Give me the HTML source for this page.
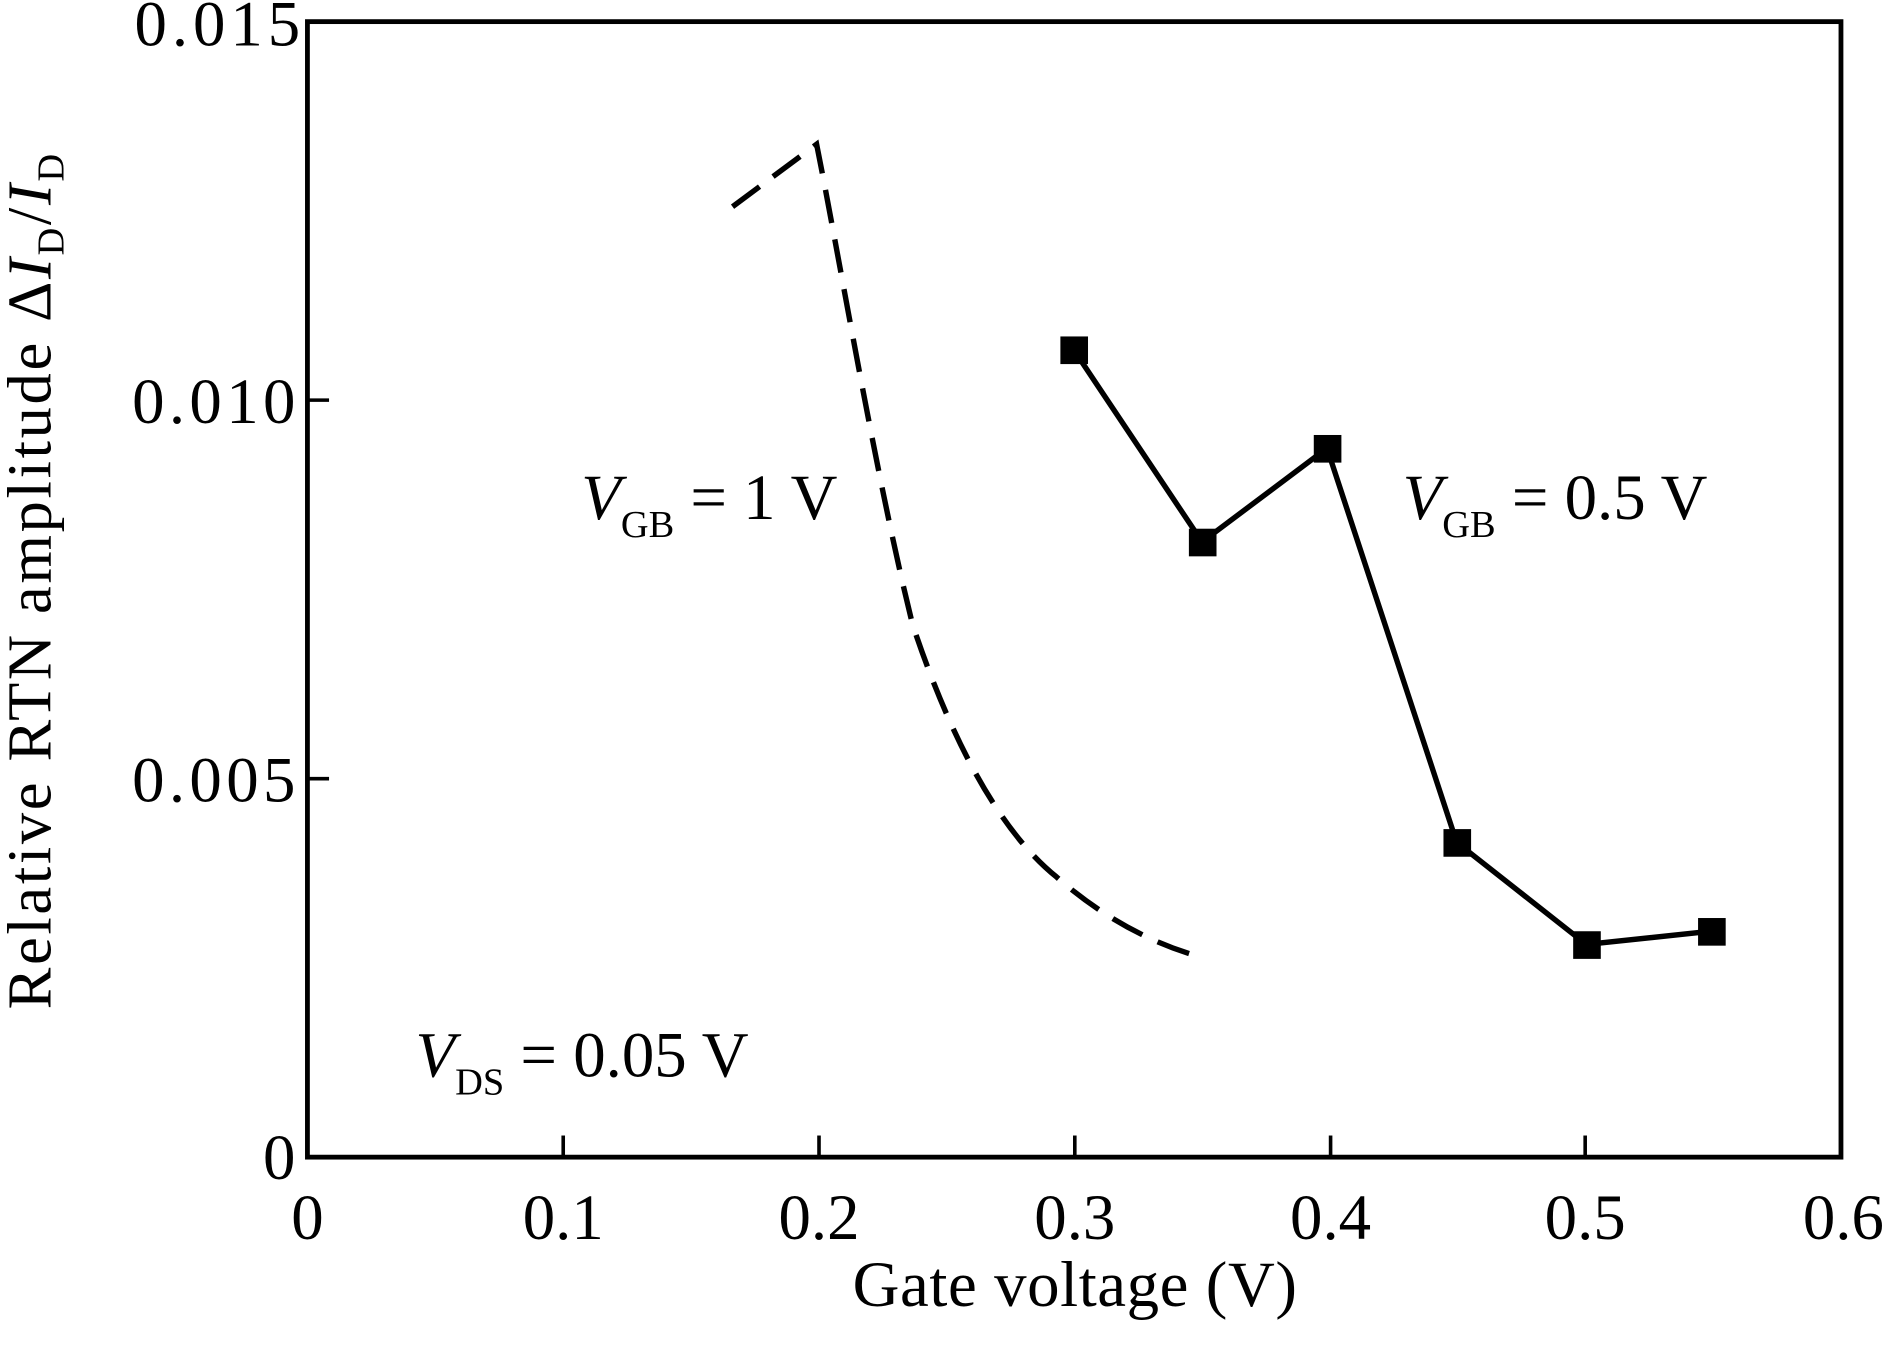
<!DOCTYPE html>
<html><head><style>html,body{margin:0;padding:0;background:#fff}svg{display:block}</style></head>
<body>
<svg width="1883" height="1347" viewBox="0 0 1568 1121" preserveAspectRatio="none" xmlns="http://www.w3.org/2000/svg" font-family="Liberation Serif, serif" fill="#000">
<rect x="256" y="18" width="1277" height="945" fill="none" stroke="#000" stroke-width="4"/>
<g stroke="#000" stroke-width="3">
<line x1="469" y1="963" x2="469" y2="945"/><line x1="682" y1="963" x2="682" y2="945"/>
<line x1="895" y1="963" x2="895" y2="945"/><line x1="1108" y1="963" x2="1108" y2="945"/>
<line x1="1320" y1="963" x2="1320" y2="945"/>
<line x1="256" y1="648" x2="274" y2="648"/><line x1="256" y1="333" x2="274" y2="333"/>
</g>
<g font-size="54" text-anchor="middle">
<text x="256" y="1031">0</text><text x="469" y="1031">0.1</text><text x="682" y="1031">0.2</text>
<text x="895" y="1031">0.3</text><text x="1108" y="1031">0.4</text><text x="1320" y="1031">0.5</text>
<text x="1535" y="1031">0.6</text>
</g>
<g font-size="54" text-anchor="end">
<text x="246" y="981" textLength="26">0</text><text x="246" y="667" textLength="136">0.005</text><text x="246" y="352" textLength="136">0.010</text><text x="250" y="38" textLength="138">0.015</text>
</g>
<text x="710" y="1087" font-size="54" textLength="370">Gate voltage (V)</text>
<text transform="translate(42,840) rotate(-90)" font-size="52" textLength="712">Relative RTN amplitude Δ<tspan font-style="italic">I</tspan><tspan font-size="32" dy="11">D</tspan><tspan dy="-11">/</tspan><tspan font-style="italic">I</tspan><tspan font-size="32" dy="11">D</tspan></text>
<path d="M610,172 L680,120 C700,220 730,400 760,520 C790,610 830,690 880,730 C920,765 960,785 998,796" fill="none" stroke="#000" stroke-width="4.5" stroke-dasharray="28,14"/>
<polyline points="894,291 1001,451 1105,373 1213,701 1321,786 1425,775" fill="none" stroke="#000" stroke-width="4.5"/>
<g>
<rect x="883" y="280" width="23" height="23"/><rect x="990" y="440" width="23" height="23"/>
<rect x="1094" y="362" width="23" height="23"/><rect x="1202" y="690" width="23" height="23"/>
<rect x="1310" y="775" width="23" height="23"/><rect x="1414" y="764" width="23" height="23"/>
</g>
<text x="484" y="432" font-size="54"><tspan font-style="italic">V</tspan><tspan font-size="32" dy="15">GB</tspan><tspan dy="-15"> = 1 V</tspan></text>
<text x="1168" y="432" font-size="54"><tspan font-style="italic">V</tspan><tspan font-size="32" dy="15">GB</tspan><tspan dy="-15"> = 0.5 V</tspan></text>
<text x="346" y="896" font-size="54"><tspan font-style="italic">V</tspan><tspan font-size="32" dy="15">DS</tspan><tspan dy="-15"> = 0.05 V</tspan></text>
</svg>
</body></html>
